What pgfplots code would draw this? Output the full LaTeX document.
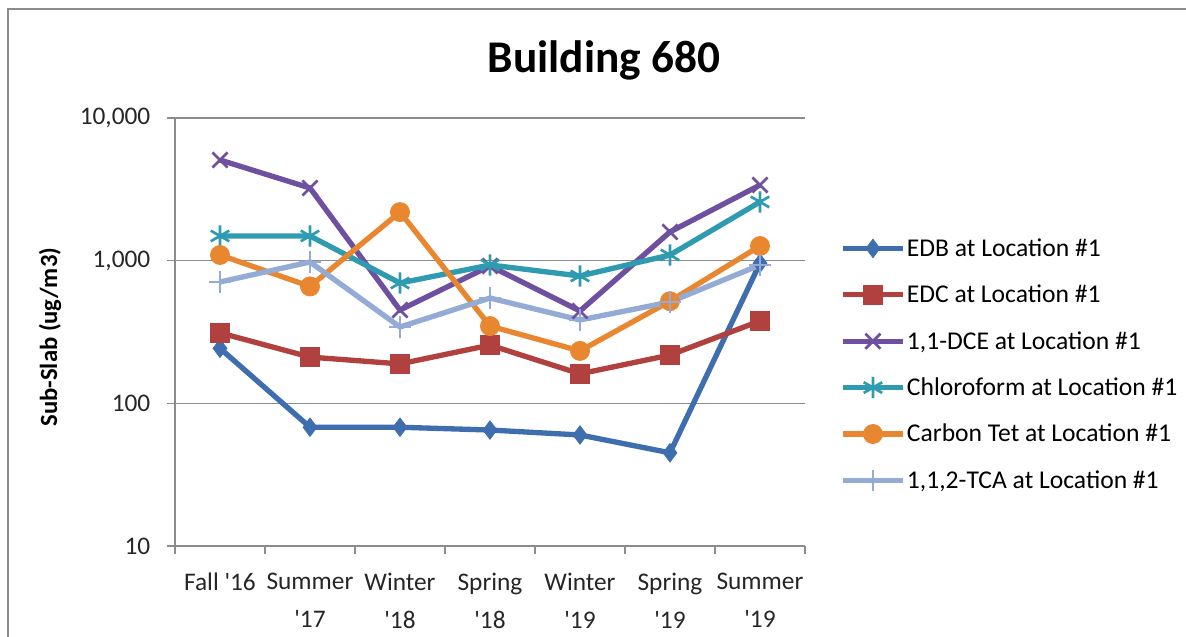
\documentclass[border=0pt]{standalone}
\usepackage{pgfplots}
\pgfplotsset{compat=1.18}
\usepackage{fontspec}
\setmainfont{Carlito}
\definecolor{cEDB}{HTML}{3F6EAE}
\definecolor{cEDC}{HTML}{B0413E}
\definecolor{cDCE}{HTML}{6F50A0}
\definecolor{cCHL}{HTML}{2F9BB0}
\definecolor{cCT}{HTML}{E8872F}
\definecolor{cTCA}{HTML}{93ABD5}
\definecolor{gridgray}{HTML}{8C8C8C}
\newcommand{\q}{\textquotesingle}
\begin{document}
\begin{tikzpicture}
\path[use as bounding box] (-131.25pt,-67.5pt) rectangle (758.25pt,409.5pt);
\draw[gridgray, line width=1.5pt] (-125.25pt,-70pt) -- (-125.25pt,402.75pt) -- (760pt,402.75pt);
\begin{axis}[
  at={(0pt,0pt)}, anchor=south west,
  scale only axis, width=472.5pt, height=321pt,
  ymode=log, ymin=10, ymax=10000,
  xmin=-0.5, xmax=6.5,
  axis x line*=bottom, axis y line*=left,
  axis line style={gridgray, line width=1.2pt},
  xtick={0,1,2,3,4,5,6},
  xticklabels={Fall \q16, Summer\\[3pt]\q17, Winter\\[3pt]\q18, Spring\\[3pt]\q18, Winter\\[3pt]\q19, Spring\\[3pt]\q19, Summer\\[3pt]\q19},
  xticklabel style={align=center, font=\fontsize{19}{25}\selectfont, text=black!85, yshift=-11pt},
  major x tick style={draw=none},
  minor xtick={-0.5,0.5,1.5,2.5,3.5,4.5,5.5,6.5},
  minor x tick style={gridgray, line width=1.2pt},
  minor tick length=6pt,
  tick align=outside,
  ytick={10,100,1000,10000},
  yticklabels={10,100,{1,000},{10,000}},
  yticklabel style={font=\fontsize{19}{22}\selectfont, text=black!85, xshift=-9pt},
  major y tick style={gridgray, line width=1.2pt},
  major tick length=6pt,
  minor ytick={}, yminorticks=false,
  ymajorgrids, grid style={gridgray, line width=1.2pt},
  ylabel={\bfseries Sub-Slab (ug/m3)},
  ylabel style={at={(axis description cs:-0.1984,0.488)}, anchor=center, rotate=0, font=\fontsize{18.5}{22}\selectfont},
  clip=false,
  legend cell align=left,
  legend style={at={(axis description cs:1.0556,0.722)}, anchor=north west, draw=none, fill=none,
    font=\fontsize{19.2}{22}\selectfont, row sep=18pt, inner sep=0pt, nodes={inner sep=1pt}},
  legend image code/.code={\draw[mark repeat=2,mark phase=2] plot coordinates {(0pt,0pt)(22.5pt,0pt)(45pt,0pt)};},
  every axis plot/.append style={line width=4pt},
]
\addplot[cEDB, mark=diamond*, mark size=7pt, mark options={solid, fill=cEDB, line width=0.5pt}]
  coordinates {(0,243) (1,68) (2,68) (3,65) (4,60) (5,45) (6,960)};
\addlegendentry{EDB at Location \#1}
\addplot[cEDC, mark=square*, mark size=7pt, mark options={solid, fill=cEDC, line width=0.5pt}]
  coordinates {(0,312) (1,211) (2,189) (3,256) (4,161) (5,218) (6,378)};
\addlegendentry{EDC at Location \#1}
\addplot[cDCE, mark=x, mark size=8pt, mark options={solid, line width=2pt}]
  coordinates {(0,5080) (1,3230) (2,451) (3,918) (4,444) (5,1590) (6,3390)};
\addlegendentry{1,1-DCE at Location \#1}
\addplot[cCHL, mark=asterisk, mark size=8pt, mark options={solid, line width=2pt}]
  coordinates {(0,1490) (1,1490) (2,697) (3,933) (4,781) (5,1096) (6,2580)};
\addlegendentry{Chloroform at Location \#1}
\addplot[cCT, mark=*, mark size=7.2pt, mark options={solid, fill=cCT, line width=0.5pt}]
  coordinates {(0,1096) (1,660) (2,2190) (3,348) (4,233) (5,520) (6,1267)};
\addlegendentry{Carbon Tet at Location \#1}
\addplot[cTCA, mark=+, mark size=8pt, mark options={solid, line width=2pt}]
  coordinates {(0,709) (1,979) (2,343) (3,547) (4,384) (5,513) (6,933)};
\addlegendentry{1,1,2-TCA at Location \#1}
\end{axis}
\node[anchor=base, font=\fontsize{34}{38}\selectfont\bfseries] at (321.75pt,354.75pt) {Building 680};
\end{tikzpicture}
\end{document}
